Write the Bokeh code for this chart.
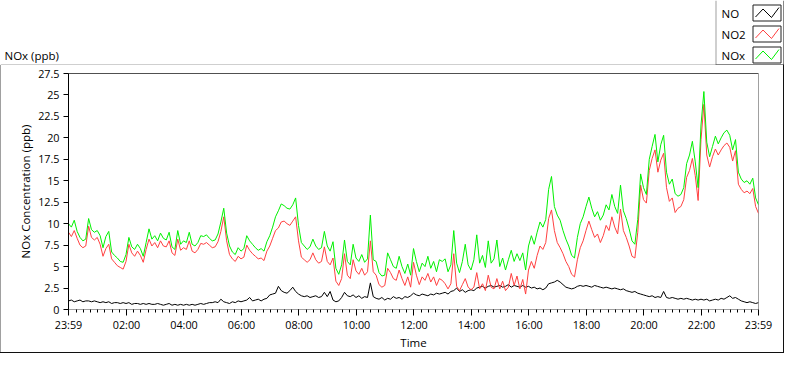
from bokeh.plotting import figure
from bokeh.models import Range1d, FixedTicker, Span, ColumnDataSource, Spacer
from bokeh.layouts import column, row
from bokeh.core.properties import value
from bokeh.embed import file_html
from bokeh.resources import INLINE

# ---------------- data ----------------
# time base: minutes after 23:59 of the previous day, one value every 6 min
MINUTES = list(range(0, 1441, 6))

NOX = [
    10.0, 9.6, 10.4, 9.1, 8.4, 8.0, 8.2, 10.6, 9.3, 9.0,
    9.2, 8.6, 7.2, 8.5, 9.1, 6.7, 6.3, 6.0, 5.6, 5.5,
    6.4, 8.4, 7.3, 7.0, 7.6, 7.1, 6.2, 7.8, 9.4, 8.2,
    8.6, 8.0, 8.9, 8.3, 8.1, 9.0, 7.3, 7.0, 9.2, 7.6,
    8.0, 7.8, 9.0, 7.6, 7.4, 7.8, 8.6, 8.5, 8.7, 8.3,
    8.0, 8.1, 8.8, 10.2, 11.8, 8.9, 7.4, 6.7, 6.4, 7.2,
    6.8, 7.1, 8.6, 8.0, 7.6, 7.2, 6.9, 7.1, 6.8, 7.9,
    8.6, 9.6, 10.8, 11.5, 12.3, 12.1, 11.8, 11.7, 12.2, 13.0,
    9.8, 7.8, 7.4, 7.0, 7.3, 8.2, 7.4, 7.0, 7.2, 9.1,
    7.4, 6.8, 7.9, 4.8, 4.1, 5.2, 8.1, 5.6, 5.2, 7.6,
    6.0, 5.6, 6.4, 5.5, 5.9, 11.0, 5.8, 5.6, 4.3, 3.9,
    4.0, 6.6, 5.8, 5.0, 4.8, 6.2, 5.0, 4.2, 5.3, 4.0,
    7.1, 5.6, 4.4, 5.4, 5.0, 6.2, 4.8, 5.6, 4.4, 5.8,
    5.6, 5.9, 4.4, 5.2, 9.2, 5.4, 4.3, 5.6, 7.6, 5.2,
    4.6, 5.8, 8.7, 5.4, 6.3, 4.9, 8.0, 5.4, 5.9, 8.1,
    5.0, 6.0, 4.6, 5.8, 6.9, 5.6, 6.5, 5.7, 6.6, 4.6,
    7.4, 8.6, 7.6, 9.0, 10.2, 9.6, 10.5, 14.0, 15.5, 12.0,
    11.0, 10.4, 9.2, 8.2, 7.4, 6.3, 6.0, 8.4, 10.0, 10.8,
    12.0, 13.1, 11.8, 10.8, 11.4, 10.4, 11.0, 12.2, 11.6, 13.4,
    12.0, 11.2, 14.5, 11.5, 10.6, 9.4, 8.0, 7.6, 10.5, 15.8,
    14.2, 13.4, 17.5, 19.0, 20.4, 17.2, 19.2, 20.3, 16.0, 14.6,
    15.2, 13.5, 13.2, 13.4, 14.2, 17.0, 18.0, 19.6, 17.2, 14.2,
    21.5, 25.4, 19.5, 17.8, 19.0, 20.2, 19.3, 20.0, 20.6, 20.9,
    20.3, 18.6, 19.8, 16.0, 15.2, 14.8, 15.0, 14.6, 15.3, 13.0,
    12.2,
]

NO2 = [
    9.0, 8.5, 9.2, 8.3, 7.5, 7.2, 7.4, 9.7, 8.4, 8.1,
    8.4, 7.6, 6.2, 7.1, 7.6, 5.9, 5.5, 5.1, 4.9, 4.7,
    5.6, 7.6, 6.6, 6.2, 6.8, 6.3, 5.5, 7.0, 8.2, 7.4,
    7.8, 7.2, 8.0, 7.4, 7.3, 8.0, 6.6, 6.3, 8.2, 6.9,
    7.2, 7.0, 8.0, 6.8, 6.6, 7.0, 7.7, 7.6, 7.8, 7.5,
    7.2, 7.3, 7.9, 9.1, 10.8, 8.0, 6.4, 5.9, 5.6, 6.2,
    5.9, 6.1, 7.5, 6.9, 6.5, 6.2, 5.9, 6.0, 5.7, 6.8,
    7.4, 8.3, 9.2, 9.5, 10.2, 10.3, 10.0, 9.8, 10.3, 10.8,
    8.0, 6.1, 5.8, 5.5, 5.8, 6.6, 5.8, 5.4, 5.6, 7.3,
    5.6, 5.2, 6.0, 3.3, 2.8, 3.6, 6.5, 4.0, 3.6, 5.8,
    4.5, 4.1, 4.8, 4.0, 4.4, 8.0, 4.4, 4.0, 2.9, 2.6,
    2.8, 4.8, 4.3, 3.6, 3.4, 4.6, 3.6, 2.8, 3.8, 2.6,
    5.5, 4.0, 2.9, 3.8, 3.4, 4.2, 3.2, 3.8, 2.8, 3.6,
    3.4, 3.0, 2.4, 3.0, 6.5, 2.7, 2.2, 2.9, 3.6, 2.6,
    2.3, 2.6, 4.3, 2.4, 3.0, 2.2, 4.0, 2.6, 2.4, 3.6,
    2.4, 3.3, 2.2, 2.6, 4.2, 2.8, 3.9, 2.4, 3.5, 1.8,
    4.6, 5.6, 4.8, 6.3, 7.4, 7.0, 7.8, 10.6, 11.6, 9.2,
    7.8, 7.2, 6.5, 5.6, 5.0, 4.1, 3.8, 5.8, 7.2, 8.0,
    9.2, 10.3, 9.3, 8.4, 8.8, 7.8, 8.6, 9.8, 9.2, 10.8,
    9.6, 8.8, 11.7, 9.2, 8.4, 7.4, 6.2, 6.0, 9.0, 14.5,
    12.8, 12.4, 16.2, 17.6, 18.6, 16.0, 17.4, 18.2, 14.2, 12.6,
    13.0, 11.3, 11.8, 12.0, 12.8, 15.4, 16.2, 17.6, 15.6, 12.7,
    19.8, 23.9, 18.0, 16.6, 17.8, 18.7, 18.0, 18.6, 19.1, 19.4,
    18.9, 17.3, 18.5, 14.6, 14.0, 13.6, 13.8, 13.5, 14.1, 12.0,
    11.2,
]

NO = [
    1.0, 1.1, 0.9, 1.0, 1.1, 0.9, 1.0, 1.0, 0.9, 1.0,
    0.9, 0.8, 0.9, 0.8, 0.9, 0.7, 0.8, 0.8, 0.7, 0.8,
    0.7, 0.8, 0.6, 0.7, 0.7, 0.6, 0.7, 0.6, 0.7, 0.6,
    0.6, 0.7, 0.6, 0.5, 0.6, 0.7, 0.5, 0.6, 0.5, 0.6,
    0.5, 0.6, 0.5, 0.6, 0.5, 0.6, 0.7, 0.6, 0.7, 0.8,
    0.8, 0.9, 0.8, 1.2, 0.9, 0.8, 0.7, 0.9, 0.8, 1.0,
    0.9, 1.0, 1.1, 1.4, 1.0, 1.1, 1.2, 1.0, 1.2, 1.3,
    1.7, 1.8, 1.9, 2.7, 2.2, 2.0, 1.9, 2.2, 2.6, 2.1,
    1.8, 1.6, 1.5, 1.6, 1.4, 1.5, 1.6, 1.4, 1.5, 2.0,
    1.5, 2.1, 1.1, 0.9, 1.0, 1.4, 2.0, 1.6, 1.5, 1.7,
    1.4, 1.6, 1.3, 1.5, 1.4, 3.1, 1.5, 1.3, 1.2, 1.4,
    1.1, 1.3, 1.2, 1.5, 1.3, 1.4, 1.2, 1.5, 1.4, 1.6,
    1.9, 1.7, 1.6, 1.8, 1.7, 1.6, 1.8, 1.7, 1.9, 1.8,
    1.9, 2.0, 1.8, 2.1, 2.2, 2.5, 2.1, 2.3, 2.0, 2.2,
    2.3, 2.2, 2.5, 2.6, 2.7, 2.5, 2.7, 2.8, 2.6, 2.7,
    2.8, 2.6, 2.7, 2.9, 2.6, 2.8, 2.7, 2.6, 2.8, 2.6,
    2.7, 2.5, 2.6, 2.4, 2.5, 2.3, 2.5, 3.0, 3.1, 3.2,
    3.4, 3.2, 2.9, 2.6, 2.5, 2.4, 2.5, 2.7, 2.8, 2.7,
    2.8, 2.7, 2.6, 2.8, 2.7, 2.6, 2.5, 2.6, 2.5, 2.4,
    2.5, 2.4, 2.3, 2.4, 2.2, 2.1, 2.0, 2.1, 1.9, 1.8,
    1.7, 1.6, 1.5, 1.6, 1.4, 1.5, 1.4, 2.1, 1.4, 1.3,
    1.4, 1.3, 1.2, 1.3, 1.2, 1.3, 1.2, 1.1, 1.2, 1.1,
    1.2, 1.1, 1.2, 1.0, 1.1, 1.2, 1.1, 1.3, 1.2, 1.4,
    1.6, 1.3, 1.4, 1.2, 1.0, 0.9, 0.8, 0.9, 0.8, 0.7,
    0.8,
]

SERIES_NAMES = ["NO", "NO2", "NOx"]
SERIES_COLORS = ["#000000", "#ff4040", "#00f000"]

X_TICKS = [0, 121, 241, 361, 481, 601, 721, 841, 961, 1081, 1201, 1321, 1440]
X_LABELS = ["23:59", "02:00", "04:00", "06:00", "08:00", "10:00", "12:00",
            "14:00", "16:00", "18:00", "20:00", "22:00", "23:59"]
X_MINOR = list(range(1, 1440, 15))
Y_TICKS = [0, 2.5, 5, 7.5, 10, 12.5, 15, 17.5, 20, 22.5, 25, 27.5]
Y_LABELS = ["0", "2.5", "5", "7.5", "10", "12.5", "15", "17.5", "20",
            "22.5", "25", "27.5"]
CAPTION = "NOx (ppb)"

# ---------------- layout constants ----------------
FONT = "Open Sans"
GRAY = "#a0a0a0"
DARK = "#101010"
W, H = 784, 353
TOP_H = 65            # header strip: caption + legend
MAIN_H = H - TOP_H - 1
LINE_Y = TOP_H - 1    # outer frame top line / legend bottom line
LEG_L = 715           # legend box left edge

# ---------------- header strip (caption + legend) ----------------
top = figure(width=W, height=TOP_H, output_backend="svg", toolbar_location=None,
             x_range=Range1d(0, W), y_range=Range1d(TOP_H, 0),
             x_axis_type=None, y_axis_type=None,
             min_border=0, min_border_left=0, min_border_right=0,
             min_border_top=0, min_border_bottom=0)
top.outline_line_color = None
top.grid.visible = False
top.background_fill_color = "white"
top.border_fill_color = "white"

top.text(x=[4], y=[LINE_Y - 9], text=[CAPTION], text_font=value(FONT),
         text_font_size="11.5px", text_color="black",
         text_baseline="alphabetic", text_align="left")

# outer frame top line, legend box edges
top.quad(left=[0, LEG_L, LEG_L, W - 1],
         right=[LEG_L, LEG_L + 1, W, W],
         top=[LINE_Y, 0, LINE_Y, 0],
         bottom=[LINE_Y + 1, LINE_Y, TOP_H, TOP_H],
         fill_color=[GRAY, GRAY, DARK, DARK], line_color=None)

for i, (name, color) in enumerate(zip(SERIES_NAMES, SERIES_COLORS)):
    ty = 4 + 21 * i
    top.text(x=[LEG_L + 6], y=[ty + 8.5], text=[name], text_font=value(FONT),
             text_font_size="11.5px", text_color="black",
             text_baseline="middle", text_align="left")
    bx = LEG_L + 37.5
    top.quad(left=[bx], right=[bx + 28], top=[ty + 0.5], bottom=[ty + 16.5],
             fill_color="white", line_color="#202020", line_width=1)
    top.line(x=[bx + 2.5, bx + 10, bx + 18.5, bx + 26],
             y=[ty + 12.5, ty + 4.5, ty + 13, ty + 3],
             line_color=color, line_width=1)

# ---------------- main chart ----------------
p = figure(width=W - 2, height=MAIN_H, output_backend="svg",
           toolbar_location=None,
           x_range=Range1d(0, 1440), y_range=Range1d(0, 27.5),
           min_border_left=67, min_border_right=25,
           min_border_top=8, min_border_bottom=36)
p.background_fill_color = "white"
p.border_fill_color = "white"
p.grid.visible = False
p.outline_line_color = GRAY

src = ColumnDataSource(dict(t=MINUTES, no=NO, no2=NO2, nox=NOX))
for col, color in zip(["no", "no2", "nox"], SERIES_COLORS):
    p.line("t", col, source=src, line_color=color, line_width=1)

xa = p.xaxis[0]
xa.ticker = FixedTicker(ticks=X_TICKS, minor_ticks=X_MINOR)
xa.major_label_overrides = {t: l for t, l in zip(X_TICKS, X_LABELS)}
xa.axis_label = "Time"
xa.axis_line_color = GRAY
xa.major_tick_in = 0
xa.major_tick_out = 6
xa.minor_tick_in = 0
xa.minor_tick_out = 3
xa.major_tick_line_color = "black"
xa.minor_tick_line_color = "black"
xa.major_label_standoff = 1
xa.axis_label_standoff = 0
xa.major_label_text_font = FONT
xa.major_label_text_font_size = "10.8px"
xa.major_label_text_color = "black"
xa.axis_label_text_font = FONT
xa.axis_label_text_font_size = "11.5px"
xa.axis_label_text_font_style = "normal"
xa.axis_label_text_color = "black"

ya = p.yaxis[0]
ya.ticker = FixedTicker(ticks=Y_TICKS)
ya.major_label_overrides = {t: l for t, l in zip(Y_TICKS, Y_LABELS)}
ya.axis_label = "NOx Concentration (ppb)"
ya.axis_line_color = "black"
ya.major_tick_in = 0
ya.major_tick_out = 5
ya.minor_tick_line_color = None
ya.major_tick_line_color = "black"
ya.major_label_standoff = 4
ya.axis_label_standoff = 2
ya.major_label_text_font = FONT
ya.major_label_text_font_size = "10.8px"
ya.major_label_text_color = "black"
ya.axis_label_text_font = FONT
ya.axis_label_text_font_size = "11.5px"
ya.axis_label_text_font_style = "normal"
ya.axis_label_text_color = "black"

p.add_layout(Span(location=27.5, dimension="width", line_color="black",
                  line_width=1))

left_edge = Spacer(width=1, height=MAIN_H, styles={"background-color": GRAY})
right_edge = Spacer(width=1, height=MAIN_H, styles={"background-color": DARK})
bottom_edge = Spacer(width=W, height=1, styles={"background-color": DARK})

layout = column(top, row(left_edge, p, right_edge), bottom_edge)

open("out.html", "w").write(file_html(layout, INLINE))
